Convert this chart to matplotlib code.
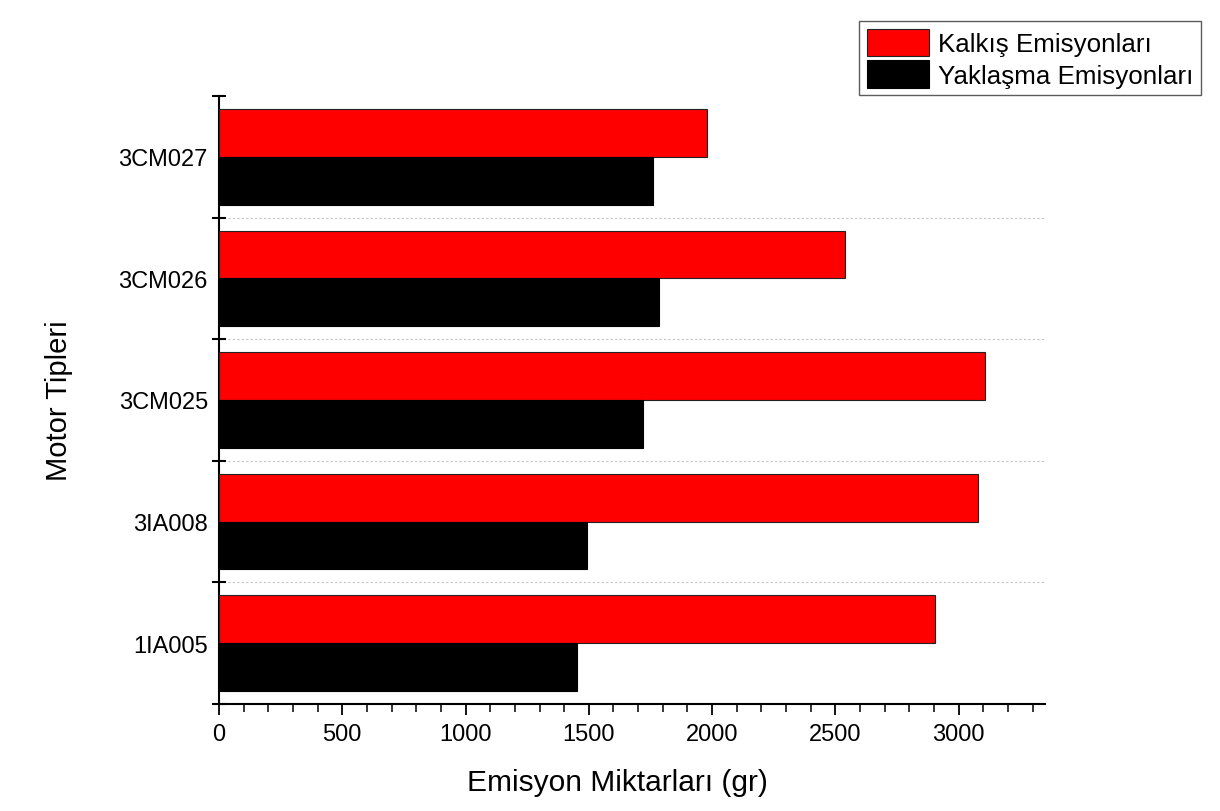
import numpy as np
import matplotlib.pyplot as plt
from matplotlib.ticker import MultipleLocator

plt.rcParams['font.family'] = ['Liberation Sans', 'DejaVu Sans']

motors = ["1IA005", "3IA008", "3CM025", "3CM026", "3CM027"]
kalkis = [2906, 3078, 3108, 2540, 1978]      # Kalkış Emisyonları
yaklasma = [1451, 1494, 1720, 1785, 1759]    # Yaklaşma Emisyonları

fig = plt.figure(figsize=(12.2, 8.12), dpi=100)
ax = fig.add_axes([0.1795, 0.1318, 0.677, 0.7488])

y = np.arange(len(motors))
h = 0.393
ax.barh(y + h / 2, kalkis, height=h, color="#ff0000", edgecolor="#222222", linewidth=0.8,
        label="Kalkış Emisyonları", zorder=3)
ax.barh(y - h / 2, yaklasma, height=h, color="black", edgecolor="black", linewidth=0.8,
        label="Yaklaşma Emisyonları", zorder=3)

ax.set_xlim(0, 3350)
ax.set_ylim(-0.5, len(motors) - 0.5)

# category labels in the middle, tick marks on the boundaries
ax.set_yticks(y)
ax.set_yticklabels(motors, fontsize=17)
ax.tick_params(axis="y", which="major", length=0, pad=8)
ax.set_yticks(np.arange(-0.5, len(motors), 1), minor=True)
ax.tick_params(axis="y", which="minor", direction="inout", length=10, width=1.5)

ax.xaxis.set_major_locator(MultipleLocator(500))
ax.xaxis.set_minor_locator(MultipleLocator(100))
ax.tick_params(axis="x", which="major", direction="out", length=8, width=1.3, labelsize=17, pad=6)
ax.tick_params(axis="x", which="minor", direction="out", length=5.5, width=1.1)

for b in np.arange(0.5, len(motors) - 1, 1):
    ax.axhline(b, color="#c4c4c4", linestyle=(0, (2, 2)), linewidth=0.8, zorder=1)

for s in ["top", "right"]:
    ax.spines[s].set_visible(False)
ax.spines["left"].set_linewidth(1.5)
ax.spines["bottom"].set_linewidth(1.5)

ax.set_xlabel("Emisyon Miktarları (gr)", fontsize=21.5)
ax.xaxis.set_label_coords(0.482, -0.105)
ax.set_ylabel("Motor Tipleri", fontsize=21)
ax.yaxis.set_label_coords(-0.177, 0.5)

ax.legend(loc="upper left", bbox_to_anchor=(0.704, 0.973), bbox_transform=fig.transFigure,
          fontsize=18.7, frameon=True, fancybox=False, edgecolor="#333333",
          handlelength=2.4, handleheight=1.25, handletextpad=0.35, labelspacing=0.15,
          borderpad=0.3, borderaxespad=0)

fig.savefig("out.png", dpi=100, facecolor="white")
